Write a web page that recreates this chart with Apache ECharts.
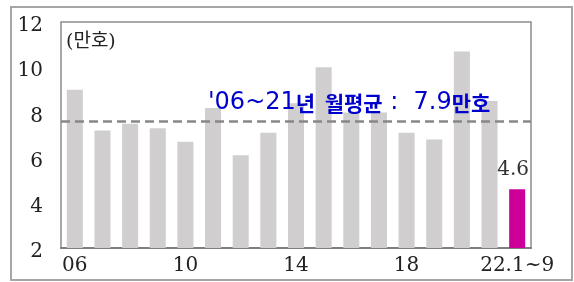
<!DOCTYPE html>
<html>
<head>
<meta charset="utf-8">
<script src="https://cdn.jsdelivr.net/npm/echarts@6/dist/echarts.min.js"></script>
<style>
  html, body { margin: 0; padding: 0; background: #fff; }
  #chart { width: 574px; height: 282px; }
</style>
</head>
<body>
<div id="chart"></div>
<script>
// 월평균 주택매매거래량 (만호)
const years = ["06", "07", "08", "09", "10", "11", "12", "13", "14", "15",
  "16", "17", "18", "19", "20", "21", "22.1~9"];
const values = [9.0, 7.2, 7.5, 7.3, 6.7, 8.2, 6.1, 7.1, 8.4, 10.0,
  8.0, 8.0, 7.1, 6.8, 10.7, 8.5, 4.6];
const avgLine = 7.6; // dashed line position as drawn
const unitText = "(만호)";

const serif = "DejaVu Serif, Noto Sans CJK KR";

const chart = echarts.init(document.getElementById("chart"));

const barData = values.map((v, i) => {
  if (i === values.length - 1) {
    return {
      value: v,
      itemStyle: { color: "#cc0099" },
      label: {
        show: true,
        position: "top",
        distance: 9,
        offset: [-4, 0],
        fontFamily: serif,
        fontSize: 20,
        color: "#333"
      }
    };
  }
  return v;
});

chart.setOption({
  animation: false,
  grid: {
    left: 61,
    top: 22,
    right: 43,
    bottom: 34,
    show: true,
    borderColor: "#8c8c8c",
    borderWidth: 1.5
  },
  xAxis: {
    type: "category",
    data: years,
    axisLine: { lineStyle: { color: "#7f7f7f", width: 2 } },
    axisTick: { show: false },
    axisLabel: {
      interval: 3,
      margin: 8,
      fontFamily: serif,
      fontSize: 20,
      color: "#222"
    }
  },
  yAxis: {
    type: "value",
    min: 2,
    max: 12,
    interval: 2,
    splitLine: { show: false },
    axisLine: { show: false },
    axisTick: { show: false },
    axisLabel: {
      margin: 18,
      verticalAlign: "top",
      lineHeight: 8,
      fontFamily: serif,
      fontSize: 20,
      color: "#222"
    }
  },
  series: [{
    type: "bar",
    data: barData,
    barWidth: "58%",
    itemStyle: { color: "#d0cece" },
    markLine: {
      silent: true,
      symbol: "none",
      label: { show: false },
      lineStyle: { color: "#888", width: 2.5, type: [9, 5] },
      data: [{ yAxis: avgLine }]
    }
  }],
  graphic: [
    {
      type: "rect",
      shape: { x: 11, y: 7, width: 561, height: 273 },
      style: { fill: "none", stroke: "#a6a6a6", lineWidth: 2 },
      silent: true
    },
    {
      type: "text",
      left: 66,
      top: 33,
      style: {
        text: unitText,
        font: "19px " + serif,
        fill: "#222"
      }
    },
    {
      type: "text",
      left: 208,
      top: 91,
      z: 10,
      style: {
        text: "{n|'06~21}{k|년  월평균}{n| :  7.9}{k|만호}",
        fill: "#0000cc",
        rich: {
          n: {
            fontFamily: "DejaVu Sans",
            fontSize: 24,
            color: "#0000cc"
          },
          k: {
            fontFamily: "Noto Sans CJK KR",
            fontWeight: "bold",
            fontSize: 21,
            color: "#0000cc"
          }
        }
      }
    }
  ]
});
</script>
</body>
</html>
